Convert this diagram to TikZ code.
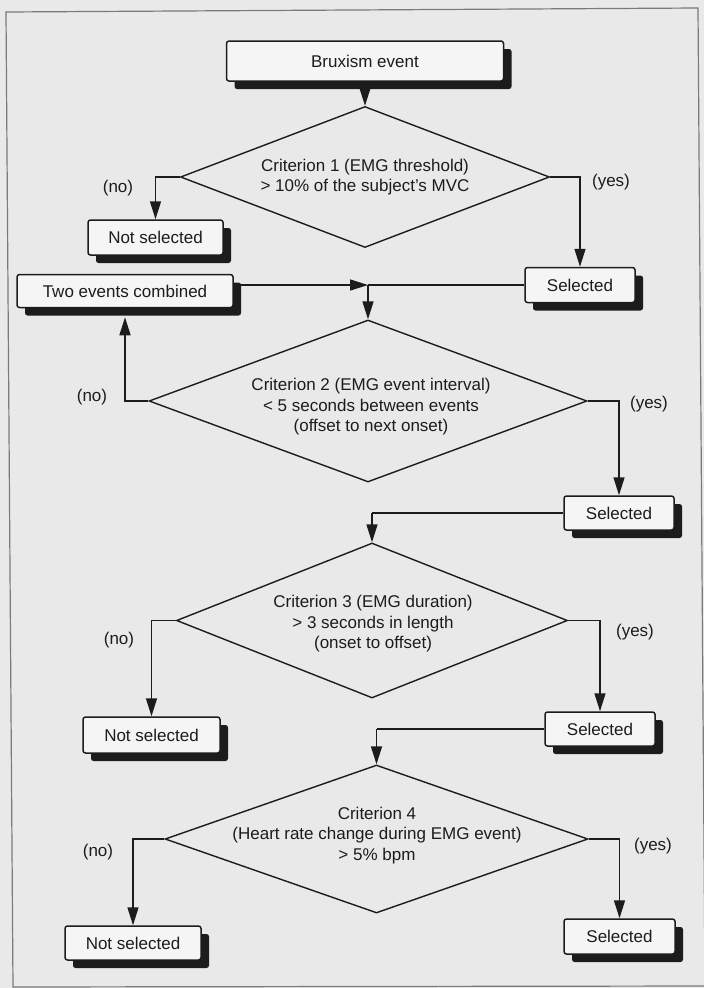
\documentclass[tikz,border=0pt]{standalone}
\usepackage{fontspec}
\setmainfont{Liberation Sans}
\usetikzlibrary{arrows.meta,shapes.geometric,shadows,calc}
\definecolor{paper}{HTML}{E9E9E9}
\definecolor{boxfill}{HTML}{F5F5F5}
\definecolor{framecol}{HTML}{7A7A7A}
\definecolor{ink}{HTML}{1C1C1C}
\begin{document}
\begin{tikzpicture}[x=1pt,y=-1pt,
  font=\fontsize{17}{20.5}\selectfont,
  box/.style={draw=ink, line width=1.5pt, fill=boxfill, rounded corners=2.5pt,
    inner sep=0pt, text=ink,
    drop shadow={shadow xshift=8pt, shadow yshift=-8pt, fill=ink, opacity=1}},
  crit/.style={diamond, draw=ink, line width=1.4pt, inner sep=0pt, aspect=2.5},
  lbl/.style={text=ink, inner sep=0pt},
  conn/.style={draw=ink, line width=1.5pt},
  arr/.style={draw=ink, line width=1.5pt, -{Triangle[length=18pt,width=11pt]}}]
\useasboundingbox (0,0) rectangle (704,988);
\fill[paper] (0,0) rectangle (704,988);
\draw[framecol, line width=1.2pt] (6,12) -- (698,8) -- (705,986) -- (13,987) -- cycle;

% nodes
\node[box, minimum width=277pt, minimum height=40pt] (brux) at (365,61) {Bruxism event};
\node[crit, minimum width=369pt, minimum height=141pt] (d1) at (365,177) {};
\node[lbl, align=center] (t1) at (365,177) {Criterion 1 (EMG threshold)\\> 10\% of the subject’s MVC};
\node[box, minimum width=135pt, minimum height=35pt] (ns1) at (155.5,237.5) {Not selected};
\node[box, minimum width=110pt, minimum height=35pt] (sel1) at (580,285) {Selected};
\node[box, minimum width=216pt, minimum height=33pt] (two) at (125,291) {Two events combined};

\node[crit, minimum width=438pt, minimum height=162pt] (d2) at (368,401) {};
\node[lbl, align=center] (t2) at (371,407) {Criterion 2 (EMG event interval)\\< 5 seconds between events\\(offset to next onset)};
\node[box, minimum width=110pt, minimum height=34pt] (sel2) at (619,513) {Selected};

\node[crit, minimum width=391pt, minimum height=155pt] (d3) at (372,620.5) {};
\node[lbl, align=center] (t3) at (373,624) {Criterion 3 (EMG duration)\\> 3 seconds in length\\(onset to offset)};
\node[box, minimum width=137pt, minimum height=36pt] (ns2) at (151.5,735) {Not selected};
\node[box, minimum width=110pt, minimum height=34pt] (sel3) at (600,729) {Selected};

\node[crit, minimum width=423pt, minimum height=148pt] (d4) at (376.5,839) {};
\node[lbl, align=center] (t4) at (377,835.5) {Criterion 4\\(Heart rate change during EMG event)\\> 5\% bpm};
\node[box, minimum width=136pt, minimum height=34pt] (ns3) at (133,943) {Not selected};
\node[box, minimum width=111pt, minimum height=35pt] (sel4) at (619.5,936.5) {Selected};

% branch labels
\node[lbl] (no1) at (118,188) {(no)};
\node[lbl] (yes1) at (611,182) {(yes)};
\node[lbl] (no2) at (92,397) {(no)};
\node[lbl] (yes2) at (649,404) {(yes)};
\node[lbl] (no3) at (119,640) {(no)};
\node[lbl] (yes3) at (635,632) {(yes)};
\node[lbl] (no4) at (98,852) {(no)};
\node[lbl] (yes4) at (653,846) {(yes)};

% junctions
\coordinate (j1) at (d2.north |- sel1.west);
\coordinate (j2) at (d3.north |- sel2.west);
\coordinate (j3) at (d4.north |- sel3.west);

% connectors
\draw[arr] (brux.south) -- (d1.north);
\draw[arr] (d1.west) -| (ns1.north);
\draw[arr] (d1.east) -| (sel1.north);
\draw[conn] (sel1.west) -- (j1);
\draw[arr] (two.east |- j1) -- (j1);
\draw[arr] (j1) -- (d2.north);
\draw[arr] (d2.west) -| ([yshift=-9pt]two.south);
\draw[arr] (d2.east) -| (sel2.north);
\draw[conn] (sel2.west) -- (j2);
\draw[arr] (j2) -- (d3.north);
\draw[arr] (d3.west) -| (ns2.north);
\draw[arr] (d3.east) -| (sel3.north);
\draw[conn] (sel3.west) -- (j3);
\draw[arr] (j3) -- (d4.north);
\draw[arr] (d4.west) -| (ns3.north);
\draw[arr] (d4.east) -| (sel4.north);
\end{tikzpicture}
\end{document}
